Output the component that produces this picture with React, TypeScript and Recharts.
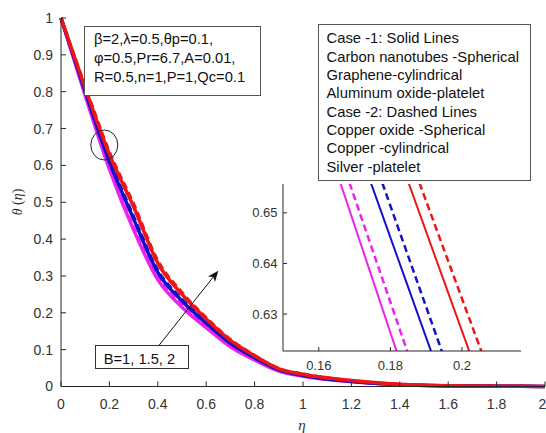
import React from 'react';
import { LineChart, Line, XAxis, YAxis } from 'recharts';

// ---- main plot data (theta vs eta) ----
const etaValues = [0, 0.1, 0.2, 0.3, 0.4, 0.5, 0.6, 0.7, 0.8, 0.9, 1.0, 1.2, 1.4, 1.6, 1.8, 2.0];
const thetaB1Solid = [1, 0.79, 0.59, 0.425, 0.29, 0.215, 0.16, 0.108, 0.072, 0.042, 0.028, 0.013, 0.005, 0.002, 0.001, 0];
const thetaB1Dashed = [1, 0.796, 0.597, 0.432, 0.296, 0.22, 0.164, 0.111, 0.074, 0.043, 0.029, 0.013, 0.005, 0.002, 0.001, 0];
const thetaB15Solid = [1, 0.8, 0.61, 0.455, 0.31, 0.232, 0.172, 0.117, 0.078, 0.045, 0.03, 0.014, 0.005, 0.002, 0.001, 0];
const thetaB15Dashed = [1, 0.806, 0.617, 0.462, 0.316, 0.237, 0.176, 0.12, 0.08, 0.046, 0.031, 0.014, 0.005, 0.002, 0.001, 0];
const thetaB2Solid = [1, 0.81, 0.63, 0.488, 0.335, 0.25, 0.183, 0.125, 0.083, 0.048, 0.033, 0.016, 0.006, 0.002, 0.001, 0];
const thetaB2Dashed = [1, 0.815, 0.637, 0.496, 0.342, 0.255, 0.187, 0.128, 0.085, 0.049, 0.034, 0.016, 0.006, 0.002, 0.001, 0];

const xTicks = [0, 0.2, 0.4, 0.6, 0.8, 1, 1.2, 1.4, 1.6, 1.8, 2];
const yTicks = [0, 0.1, 0.2, 0.3, 0.4, 0.5, 0.6, 0.7, 0.8, 0.9, 1];

// ---- inset data (eta at two theta levels) ----
const insetTheta = [0.66, 0.62];
const insetEtaB1Solid = [0.1641, 0.183];
const insetEtaB1Dashed = [0.1666, 0.186];
const insetEtaB15Solid = [0.1725, 0.1927];
const insetEtaB15Dashed = [0.1757, 0.1957];
const insetEtaB2Solid = [0.183, 0.2034];
const insetEtaB2Dashed = [0.186, 0.2068];
const insetXTicks = [0.16, 0.18, 0.2];
const insetYTicks = [0.63, 0.64, 0.65];

// ---- texts ----
const paramLines = ['β=2,λ=0.5,θp=0.1,', 'φ=0.5,Pr=6.7,A=0.01,', 'R=0.5,n=1,P=1,Qc=0.1'];
const legendLines = [
  'Case -1: Solid Lines',
  'Carbon nanotubes -Spherical',
  'Graphene-cylindrical',
  'Aluminum oxide-platelet',
  'Case -2: Dashed Lines',
  'Copper oxide -Spherical',
  'Copper -cylindrical',
  'Silver -platelet',
];
const arrowLabel = 'B=1, 1.5, 2';

const MAGENTA = '#ee22ee';
const BLUE = '#1111cc';
const RED = '#ee1515';
const AXIS = '#262626';
const FONT = '"Liberation Sans", Arial, sans-serif';

const series = [
  { key: 'b1s', color: MAGENTA, dashed: false },
  { key: 'b1d', color: MAGENTA, dashed: true },
  { key: 'b15s', color: BLUE, dashed: false },
  { key: 'b15d', color: BLUE, dashed: true },
  { key: 'b2s', color: RED, dashed: false },
  { key: 'b2d', color: RED, dashed: true },
];

const mainData = etaValues.map((eta, i) => ({
  eta,
  b1s: thetaB1Solid[i],
  b1d: thetaB1Dashed[i],
  b15s: thetaB15Solid[i],
  b15d: thetaB15Dashed[i],
  b2s: thetaB2Solid[i],
  b2d: thetaB2Dashed[i],
}));

const insetData = insetTheta.map((theta, i) => ({
  theta,
  b1s: insetEtaB1Solid[i],
  b1d: insetEtaB1Dashed[i],
  b15s: insetEtaB15Solid[i],
  b15d: insetEtaB15Dashed[i],
  b2s: insetEtaB2Solid[i],
  b2d: insetEtaB2Dashed[i],
}));

const tickStyle = { fill: '#333', fontSize: 14, fontFamily: FONT };
const insetTickStyle = { fill: '#333', fontSize: 13, fontFamily: FONT };

function Arrow({ x1, y1, x2, y2 }: { x1: number; y1: number; x2: number; y2: number }) {
  const dx = x2 - x1;
  const dy = y2 - y1;
  const len = Math.sqrt(dx * dx + dy * dy);
  const ux = dx / len;
  const uy = dy / len;
  const hl = 11;
  const hw = 4.5;
  const bx = x2 - ux * hl;
  const by = y2 - uy * hl;
  const pts = `${x2},${y2} ${bx - uy * hw},${by + ux * hw} ${bx + ux * 3},${by + uy * 3} ${bx + uy * hw},${by - ux * hw}`;
  return (
    <g>
      <line x1={x1} y1={y1} x2={bx + ux * 3} y2={by + uy * 3} stroke="#111" strokeWidth={1} />
      <polygon points={pts} fill="#111" />
    </g>
  );
}

export default function App() {
  return (
    <div style={{ position: 'absolute', left: 0, top: 0, width: 546, height: 433, background: '#fff' }}>
      <div style={{ position: 'absolute', left: 0, top: 0 }}>
        <LineChart width={546} height={433} data={mainData} margin={{ top: 18, right: 1, left: 21, bottom: 16.5 }}>
          <XAxis
            dataKey="eta"
            type="number"
            domain={[0, 2]}
            ticks={xTicks}
            height={30}
            stroke={AXIS}
            tickSize={-5}
            tickMargin={17.5}
            tick={tickStyle}
          />
          <XAxis
            xAxisId="top"
            orientation="top"
            dataKey="eta"
            type="number"
            domain={[0, 2]}
            ticks={xTicks}
            height={0}
            stroke={AXIS}
            tickSize={-5}
            tick={false}
          />
          <YAxis
            type="number"
            domain={[0, 1]}
            ticks={yTicks}
            width={40}
            stroke={AXIS}
            tickSize={-5}
            tickMargin={13}
            tick={tickStyle}
          />
          <YAxis
            yAxisId="right"
            orientation="right"
            type="number"
            domain={[0, 1]}
            ticks={yTicks}
            width={0}
            stroke={AXIS}
            tickSize={-5}
            tick={false}
          />
          {series.map((s) => (
            <Line
              key={s.key}
              dataKey={s.key}
              type="monotone"
              stroke={s.color}
              strokeWidth={s.dashed ? 3 : 3.5}
              strokeDasharray={s.dashed ? '7 4' : undefined}
              dot={false}
              isAnimationActive={false}
            />
          ))}
        </LineChart>
      </div>

      {/* inset background */}
      <div style={{ position: 'absolute', left: 283, top: 184, width: 238, height: 167, background: '#fff' }} />
      <div style={{ position: 'absolute', left: 223, top: 184 }}>
        <LineChart
          layout="vertical"
          width={298}
          height={207}
          data={insetData}
          margin={{ top: 0, right: 0, left: 0, bottom: 0 }}
        >
          <XAxis
            type="number"
            domain={[0.15, 0.2165]}
            allowDataOverflow
            ticks={insetXTicks}
            height={40}
            stroke={AXIS}
            tickSize={-4}
            tickMargin={14}
            tick={insetTickStyle}
          />
          <XAxis
            xAxisId="top"
            orientation="top"
            type="number"
            domain={[0.15, 0.2165]}
            allowDataOverflow
            ticks={insetXTicks}
            height={0}
            stroke={AXIS}
            tickSize={-4}
            tick={false}
          />
          <YAxis
            dataKey="theta"
            type="number"
            domain={[0.6227, 0.6557]}
            allowDataOverflow
            reversed
            ticks={insetYTicks}
            width={60}
            stroke={AXIS}
            tickSize={-4}
            tickMargin={9.5}
            tick={insetTickStyle}
          />
          <YAxis
            yAxisId="right"
            orientation="right"
            dataKey="theta"
            type="number"
            domain={[0.6227, 0.6557]}
            allowDataOverflow
            reversed
            ticks={insetYTicks}
            width={0}
            stroke={AXIS}
            tickSize={-4}
            tick={false}
          />
          {series.map((s) => (
            <Line
              key={s.key}
              dataKey={s.key}
              type="linear"
              stroke={s.color}
              strokeWidth={s.dashed ? 2.5 : 2}
              strokeDasharray={s.dashed ? '7 4' : undefined}
              dot={false}
              isAnimationActive={false}
            />
          ))}
        </LineChart>
      </div>

      {/* annotations */}
      <svg
        width={546}
        height={433}
        style={{ position: 'absolute', left: 0, top: 0, pointerEvents: 'none' }}
        fontFamily={FONT}
      >
        <rect x={84.5} y={26.5} width={176} height={69} fill="#fff" stroke="#555" strokeWidth={1} />
        {paramLines.map((t, i) => (
          <text key={t} x={94} y={44 + i * 19} fontSize={14.7} fill="#111">
            {t}
          </text>
        ))}

        <rect x={318.5} y={24.5} width={212} height={156} fill="#fff" stroke="#555" strokeWidth={1} />
        {legendLines.map((t, i) => (
          <text key={t} x={326.5} y={43.3 + i * 18.34} fontSize={14.8} fill="#111">
            {t}
          </text>
        ))}

        <ellipse cx={104.3} cy={145} rx={13.5} ry={15} fill="none" stroke="#222" strokeWidth={1} />

        <Arrow x1={156.7} y1={348.3} x2={218.3} y2={270.7} />
        <rect x={95.5} y={345.5} width={93} height={23} fill="#fff" stroke="#333" strokeWidth={1} />
        <text x={103.7} y={364} fontSize={14.7} fill="#111">
          {arrowLabel}
        </text>

        <text
          x={22}
          y={202}
          fontSize={14}
          fill="#333"
          textAnchor="middle"
          fontFamily='"Liberation Serif", "DejaVu Serif", serif'
          transform="rotate(-90, 22, 202)"
        >
          <tspan fontStyle="italic">θ</tspan> (<tspan fontStyle="italic">η</tspan>)
        </text>
        <text
          x={302}
          y={430}
          fontSize={15}
          fill="#333"
          textAnchor="middle"
          fontStyle="italic"
          fontFamily='"Liberation Serif", "DejaVu Serif", serif'
        >
          η
        </text>
      </svg>
    </div>
  );
}
